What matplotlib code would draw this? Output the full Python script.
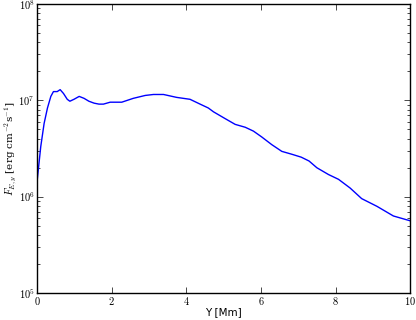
import matplotlib
matplotlib.use("Agg")
import matplotlib.pyplot as plt
import numpy as np
from matplotlib.ticker import FuncFormatter

plt.rcParams['mathtext.fontset'] = 'cm'

y_mm = [0.01, 0.10, 0.19, 0.28, 0.37, 0.44, 0.54, 0.62, 0.71, 0.81, 0.88, 0.99,
        1.13, 1.26, 1.39, 1.53, 1.66, 1.78, 1.96, 2.27, 2.58, 2.90, 3.12, 3.39,
        3.74, 4.10, 4.37, 4.59, 4.73, 5.04, 5.31, 5.58, 5.80, 6.02, 6.29, 6.56,
        6.83, 7.08, 7.29, 7.50, 7.81, 8.08, 8.39, 8.70, 9.11, 9.55, 10.0]
log_flux = [6.19, 6.52, 6.76, 6.92, 7.04, 7.09, 7.09, 7.11, 7.07, 7.01, 6.99, 7.01,
            7.04, 7.02, 6.99, 6.97, 6.96, 6.96, 6.98, 6.98, 7.02, 7.05, 7.06, 7.06,
            7.03, 7.01, 6.96, 6.92, 6.88, 6.81, 6.75, 6.72, 6.68, 6.62, 6.54, 6.47,
            6.44, 6.41, 6.37, 6.30, 6.23, 6.18, 6.09, 5.98, 5.90, 5.80, 5.75]
flux = [10 ** v for v in log_flux]

x_ticks = [0, 2, 4, 6, 8, 10]

fig = plt.figure(figsize=(4.16, 3.2), dpi=100)
ax = fig.add_axes([0.089, 0.084, 0.897, 0.904])
ax.plot(y_mm, flux, color='b', lw=1.0)
ax.set_yscale('log')
ax.set_xlim(0, 10)
ax.set_ylim(1e5, 1e8)
ax.set_xticks(x_ticks)
ax.xaxis.set_major_formatter(FuncFormatter(lambda v, p: r'$%d$' % v))
ax.yaxis.set_major_formatter(FuncFormatter(lambda v, p: r'$10^{%d}$' % round(np.log10(v))))
ax.tick_params(which='both', direction='in', top=True, right=True, labelsize=7.5)
ax.tick_params(axis='x', pad=1.5)
ax.tick_params(axis='y', pad=1.5)
ax.tick_params(which='major', length=4, width=0.5)
ax.tick_params(which='minor', length=2, width=0.5)
for s in ax.spines.values():
    s.set_linewidth(1.0)
ax.set_xlabel('Y [Mm]', fontsize=7.5, labelpad=0)
ax.set_ylabel(r'$F_{E,y}$ [erg cm$^{-2}$s$^{-1}$]', fontsize=7.5, labelpad=0,
              family='serif')
fig.savefig('out.png', dpi=100)
